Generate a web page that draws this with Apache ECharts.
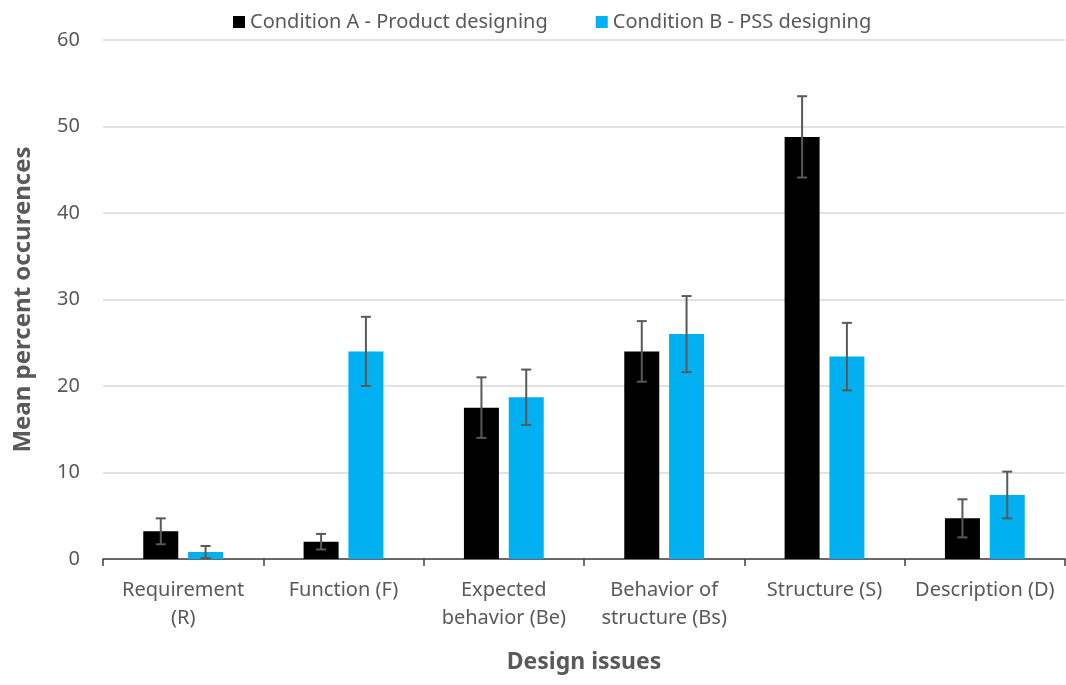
<!DOCTYPE html>
<html>
<head>
<meta charset="utf-8">
<script src="https://cdn.jsdelivr.net/npm/echarts@6/dist/echarts.min.js"></script>
<style>
  html, body { margin: 0; padding: 0; background: #fff; }
  #chart { width: 1066px; height: 685px; }
</style>
</head>
<body>
<div id="chart"></div>
<script>
const categories = ['Requirement\n(R)', 'Function (F)', 'Expected\nbehavior (Be)', 'Behavior of\nstructure (Bs)', 'Structure (S)', 'Description (D)'];
const condA = [3.2, 2.0, 17.5, 24.0, 48.8, 4.7];
const condAErr = [1.5, 0.9, 3.5, 3.5, 4.7, 2.2];
const condB = [0.8, 24.0, 18.7, 26.0, 23.4, 7.4];
const condBErr = [0.7, 4.0, 3.2, 4.4, 3.9, 2.7];

const textColor = '#595959';
const font = '"Noto Sans", sans-serif';
const BAR_W = 35;
const BAR_OFF = 22.4; // half of bar width + gap

function errSeries(values, errs, offset) {
  return {
    type: 'custom',
    z: 5,
    silent: true,
    data: values.map((v, i) => [i, v - errs[i], v + errs[i]]),
    renderItem(params, api) {
      const lo = api.coord([api.value(0), api.value(1)]);
      const hi = api.coord([api.value(0), api.value(2)]);
      const x = lo[0] + offset;
      const cap = 5;
      const style = {stroke: '#595959', lineWidth: 2};
      return {
        type: 'group',
        children: [
          {type: 'line', shape: {x1: x, y1: lo[1], x2: x, y2: hi[1]}, style},
          {type: 'line', shape: {x1: x - cap, y1: lo[1], x2: x + cap, y2: lo[1]}, style},
          {type: 'line', shape: {x1: x - cap, y1: hi[1], x2: x + cap, y2: hi[1]}, style},
        ]
      };
    }
  };
}

const chart = echarts.init(document.getElementById('chart'));
chart.setOption({
  animation: false,
  textStyle: {fontFamily: font},
  grid: {left: 103, right: 1, top: 40, bottom: 126},
  legend: {
    top: 7,
    left: 228,
    itemWidth: 12,
    itemHeight: 12,
    itemGap: 48,
    icon: 'rect',
    textStyle: {color: textColor, fontSize: 20, fontFamily: font},
    data: ['Condition A - Product designing', 'Condition B - PSS designing']
  },
  xAxis: {
    type: 'category',
    data: categories,
    name: 'Design issues',
    nameLocation: 'middle',
    nameGap: 92,
    nameTextStyle: {color: textColor, fontSize: 23, fontWeight: 'bold', fontFamily: font},
    axisLine: {lineStyle: {color: '#404040', width: 1.5}},
    axisTick: {show: true, length: 7, lineStyle: {color: '#404040', width: 1.5}},
    axisLabel: {color: textColor, fontSize: 20, lineHeight: 28, margin: 17, interval: 0, fontFamily: font}
  },
  yAxis: {
    type: 'value',
    min: 0,
    max: 60,
    interval: 10,
    name: 'Mean percent occurences',
    nameLocation: 'middle',
    nameGap: 68,
    nameTextStyle: {color: textColor, fontSize: 24, fontWeight: 'bold', fontFamily: font},
    axisLine: {show: false},
    axisTick: {show: false},
    splitLine: {lineStyle: {color: '#d9d9d9', width: 1.5}},
    axisLabel: {color: textColor, fontSize: 20, margin: 23, fontFamily: font}
  },
  series: [
    {
      name: 'Condition A - Product designing',
      type: 'bar',
      data: condA,
      barWidth: BAR_W,
      barGap: '28%',
      itemStyle: {color: '#000000'}
    },
    {
      name: 'Condition B - PSS designing',
      type: 'bar',
      data: condB,
      barWidth: BAR_W,
      itemStyle: {color: '#00b0f0'}
    },
    errSeries(condA, condAErr, -BAR_OFF),
    errSeries(condB, condBErr, BAR_OFF)
  ]
});
</script>
</body>
</html>
